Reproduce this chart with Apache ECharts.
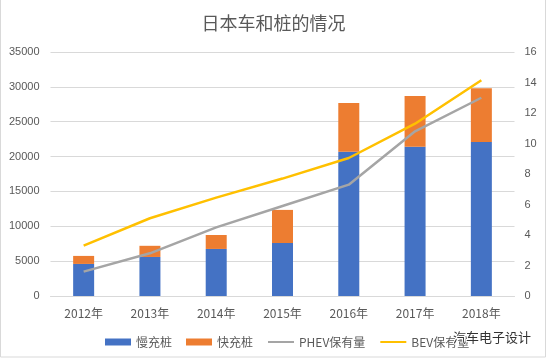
<!DOCTYPE html>
<html>
<head>
<meta charset="utf-8">
<script src="https://cdn.jsdelivr.net/npm/echarts@6/dist/echarts.min.js"></script>
<style>html,body{margin:0;padding:0;background:#fff}#c{width:547px;height:360px}</style>
</head>
<body>
<div id="c"></div>
<script>
var categories = ['2012年','2013年','2014年','2015年','2016年','2017年','2018年'];
var slowCharge = [4600, 5600, 6750, 7600, 20700, 21400, 22100];
var fastCharge = [1150, 1600, 2000, 4750, 7000, 7300, 7700];
var phev = [1.6, 2.8, 4.5, 5.9, 7.3, 10.8, 13.0];
var bev = [3.3, 5.1, 6.45, 7.7, 9.05, 11.3, 14.15];
var leftTicks = {min: 0, max: 35000, interval: 5000};
var rightTicks = {min: 0, max: 16, interval: 2};

var font = '"Microsoft YaHei","Noto Sans CJK SC","Noto Sans",sans-serif';
var numFont = '"Liberation Sans","Noto Sans CJK SC",sans-serif';
var hidden = {color: 'rgba(0,0,0,0)', borderWidth: 0, borderColor: 'rgba(0,0,0,0)', opacity: 0};
var chart = echarts.init(document.getElementById('c'), null, {renderer: 'canvas'});
chart.setOption({
  backgroundColor: '#fff',
  animation: false,
  title: {
    text: '日本车和桩的情况',
    left: 'center',
    top: 9,
    textStyle: {fontSize: 18, fontWeight: 'normal', color: '#595959', fontFamily: font}
  },
  legend: {
    top: 331,
    left: 100,
    itemGap: 14,
    itemWidth: 26,
    itemHeight: 7,
    textStyle: {fontSize: 12, color: '#595959', fontFamily: font},
    data: [
      {name: '慢充桩', icon: 'rect'},
      {name: '快充桩', icon: 'rect'},
      {name: 'PHEV保有量', itemStyle: hidden},
      {name: 'BEV保有量', itemStyle: hidden}
    ]
  },
  grid: {left: 50.5, right: 32.5, top: 52, bottom: 64},
  xAxis: {
    type: 'category',
    data: categories,
    boundaryGap: true,
    axisLine: {lineStyle: {color: '#d9d9d9'}},
    axisTick: {show: false},
    axisLabel: {color: '#595959', fontSize: 12, margin: 11, fontFamily: font}
  },
  yAxis: [
    {
      type: 'value',
      min: leftTicks.min, max: leftTicks.max, interval: leftTicks.interval,
      axisLine: {show: false}, axisTick: {show: false},
      splitLine: {lineStyle: {color: '#d9d9d9'}},
      axisLabel: {color: '#595959', fontSize: 11, margin: 11, fontFamily: numFont,
                  formatter: function (v) { return String(v); }}
    },
    {
      type: 'value',
      min: rightTicks.min, max: rightTicks.max, interval: rightTicks.interval,
      axisLine: {show: false}, axisTick: {show: false},
      splitLine: {show: false},
      axisLabel: {color: '#595959', fontSize: 11, margin: 10, fontFamily: numFont}
    }
  ],
  series: [
    {name: '慢充桩', type: 'bar', stack: 'pile', data: slowCharge, barWidth: 21,
     itemStyle: {color: '#4472C4'}},
    {name: '快充桩', type: 'bar', stack: 'pile', data: fastCharge, barWidth: 21,
     itemStyle: {color: '#ED7D31'}},
    {name: 'PHEV保有量', type: 'line', yAxisIndex: 1, data: phev, symbol: 'none',
     lineStyle: {color: '#A5A5A5', width: 2.5}, itemStyle: {color: '#A5A5A5'}},
    {name: 'BEV保有量', type: 'line', yAxisIndex: 1, data: bev, symbol: 'none',
     lineStyle: {color: '#FFC000', width: 2.5}, itemStyle: {color: '#FFC000'}}
  ],
  graphic: [
    {type: 'rect', shape: {x: 0.5, y: -1, width: 545, height: 358},
     style: {fill: 'none', stroke: '#d9d9d9', lineWidth: 1}, silent: true},
    {type: 'text', left: 452, top: 330, z: 100,
     style: {text: '汽车电子设计', fontSize: 13, fill: '#333', fontFamily: font,
             stroke: '#fff', lineWidth: 2}}
  ]
});
</script>
</body>
</html>
